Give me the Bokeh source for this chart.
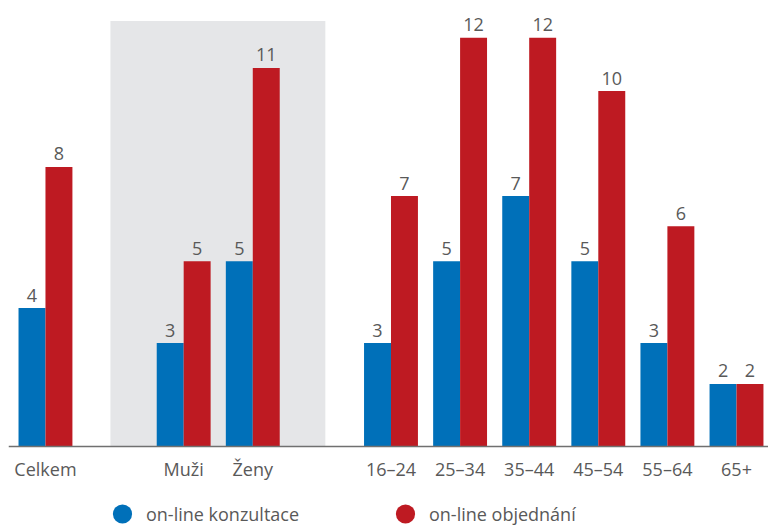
from bokeh.plotting import figure
from bokeh.models import (ColumnDataSource, BoxAnnotation, Legend, LegendItem,
                          FixedTicker, Range1d)
from bokeh.core.properties import value
from bokeh.embed import file_html
from bokeh.resources import INLINE

categories = ["Celkem", "Muži", "Ženy", "16–24", "25–34", "35–44", "45–54", "55–64", "65+"]
groups = [1, 2, 2, 3, 3, 3, 3, 3, 3]
konzultace = [3.97, 2.97, 5.31, 2.97, 5.31, 7.17, 5.31, 2.97, 1.8]
objednani = [8.0, 5.31, 10.83, 7.17, 11.69, 11.69, 10.17, 6.31, 1.8]
konzultace_labels = ["4", "3", "5", "3", "5", "7", "5", "3", "2"]
objednani_labels = ["8", "5", "11", "7", "12", "12", "10", "6", "2"]
series_names = ["on-line konzultace", "on-line objednání"]

BLUE = "#0070b9"
RED = "#be1a22"
TXT = "#595959"
FONT = "Open Sans"

# x positions with one empty slot between groups
xs = [i + (g - 1) for i, g in enumerate(groups)]
bw = 0.39
xb = [x - bw / 2 for x in xs]
xr = [x + bw / 2 for x in xs]

src_b = ColumnDataSource(dict(x=xb, top=konzultace, label=konzultace_labels))
src_r = ColumnDataSource(dict(x=xr, top=objednani, label=objednani_labels))

p = figure(width=768, height=525, output_backend="svg", toolbar_location=None,
           x_range=Range1d(-0.535, 10.463), y_range=Range1d(-2.243, 12.757),
           y_axis_location=None, min_border_left=8, min_border_right=0,
           min_border_top=0, min_border_bottom=0)
p.outline_line_color = None
p.xgrid.visible = False
p.ygrid.visible = False
p.background_fill_color = "white"
p.border_fill_color = "white"

# grey band behind gender group
band = BoxAnnotation(left=0.94, right=4.05, bottom=0, top=12.17,
                     fill_color="#e5e6e8", fill_alpha=1.0, line_color=None,
                     level="underlay")
p.add_layout(band)

p.vbar(x="x", top="top", width=bw, source=src_b, fill_color=BLUE, line_color=None)
p.vbar(x="x", top="top", width=bw, source=src_r, fill_color=RED, line_color=None)

for src in (src_b, src_r):
    p.text(x="x", y="top", text="label", source=src, text_align="center",
           text_baseline="alphabetic", y_offset=-13, text_font=value(FONT),
           text_font_size="18px", text_color=TXT)

ax = p.xaxis[0]
ax.fixed_location = 0
ax.ticker = FixedTicker(ticks=xs)
ax.major_label_overrides = {x: c for x, c in zip(xs, categories)}
ax.major_tick_line_color = None
ax.minor_tick_line_color = None
ax.axis_line_color = "#707070"
ax.axis_line_width = 1.3
ax.major_label_standoff = 4
ax.major_label_text_font = FONT
ax.major_label_text_font_size = "18px"
ax.major_label_text_color = TXT

# legend (circle markers); NaN points draw nothing in the plot itself
nan = float("nan")
dummy_b = p.scatter(x=[nan], y=[nan], marker="circle", fill_color=BLUE, line_color=None)
dummy_r = p.scatter(x=[nan], y=[nan], marker="circle", fill_color=RED, line_color=None)

for rend, name, lx in ((dummy_b, series_names[0], 90), (dummy_r, series_names[1], 373)):
    lg = Legend(items=[LegendItem(label=name, renderers=[rend])],
                location=(lx, -16), orientation="horizontal",
                glyph_width=48, glyph_height=55, label_standoff=0,
                padding=0, margin=0, border_line_color=None,
                background_fill_alpha=0, label_text_font=FONT,
                label_text_font_size="18px", label_text_color=TXT)
    p.add_layout(lg, "center")

open("out.html", "w").write(file_html(p, INLINE))
